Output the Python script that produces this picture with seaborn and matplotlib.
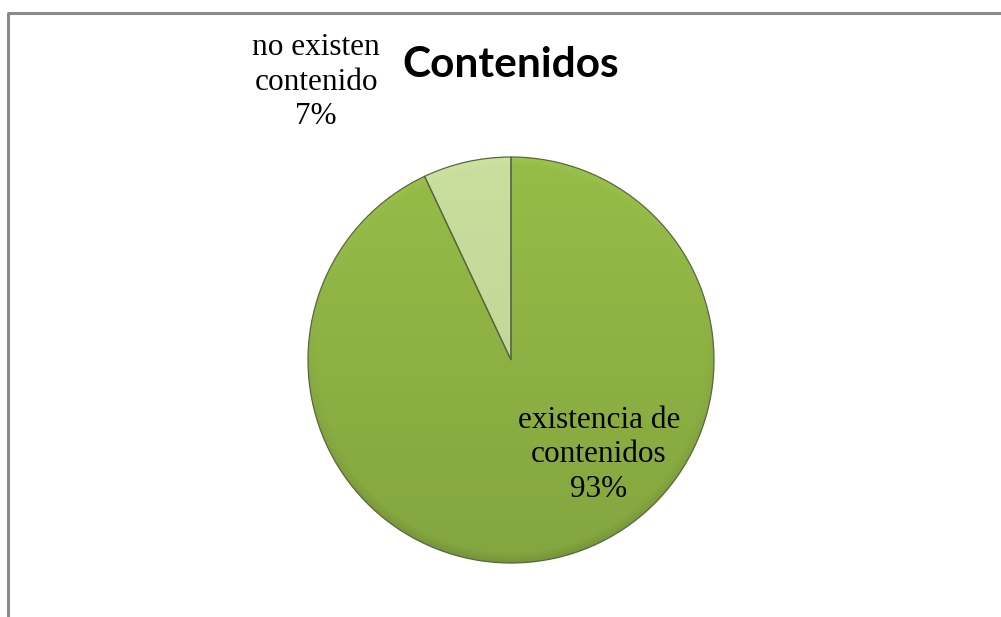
import numpy as np
import matplotlib
matplotlib.use("Agg")
import matplotlib.pyplot as plt
from matplotlib.colors import to_rgb
import seaborn as sns

# Survey result: share of documents with / without contents
categories = ["no existen\ncontenido", "existencia de\ncontenidos"]
values = [7, 93]
title = "Contenidos"

sns.set_theme(style="white")
plt.rcParams["font.family"] = ["Liberation Serif", "DejaVu Serif"]

W, H = 1001, 617
fig = plt.figure(figsize=(W / 100, H / 100), dpi=100)
ax = fig.add_axes([0, 0, 1, 1])
ax.set_xlim(0, W)
ax.set_ylim(0, H)
ax.axis("off")

cx, cy, R = 511, 257, 203
base_colors = ["#c2d798", "#8cb043"]
shade_range = [0.5, 1.0]

wedges, _ = ax.pie(values, startangle=90, counterclock=True, center=(cx, cy),
                   radius=R, colors=base_colors, frame=False,
                   wedgeprops=dict(edgecolor="none", linewidth=0))
ax.set_xlim(0, W)
ax.set_ylim(0, H)
ax.set_aspect("equal")

# shaded fill: lighter at the top, darker toward the bottom, bevelled rim
yy, xx = np.mgrid[cy - R - 2:cy + R + 2:1.0, cx - R - 2:cx + R + 2:1.0]
rr = np.hypot(xx - cx, yy - cy) / R
vert = (yy - (cy - R)) / (2 * R)
rim = np.clip((rr - 0.95) / 0.05, 0, 1)
for w, col, k in zip(wedges, base_colors, shade_range):
    shade = 0.94 + 0.13 * vert
    shade = shade - 0.10 * rim * (1 - vert) + 0.05 * rim * vert
    shade = 1 + k * (shade - 1)
    rgb = np.array(to_rgb(col))
    img = np.clip(rgb[None, None, :] * shade[..., None], 0, 1)
    im = ax.imshow(img, origin="lower", interpolation="bilinear",
                   extent=(cx - R - 2, cx + R + 2, cy - R - 2, cy + R + 2),
                   zorder=2)
    im.set_clip_path(w)

# slice borders
for w in wedges:
    w.set_zorder(3)
    w.set_facecolor("none")
    w.set_edgecolor("#5a6640")
    w.set_linewidth(0.9)
ax.set_xlim(0, W)
ax.set_ylim(0, H)

# labels
ax.text(316, 535, f"{categories[0]}\n{values[0]}%", ha="center", va="center",
        fontsize=22.5, color="black", linespacing=1.27, zorder=5)
ax.text(599, 162, f"{categories[1]}\n{values[1]}%", ha="center", va="center",
        fontsize=22.5, color="black", linespacing=1.27, zorder=5)
ax.text(511, 540, title, ha="center", va="baseline", fontsize=30.5,
        fontweight="bold", family=["Lato", "DejaVu Sans"], color="black",
        zorder=5)

# chart frame (top and left edges)
ax.plot([7, W], [H - 13, H - 13], color="#8a8a8a", lw=2.2, zorder=6,
        solid_capstyle="butt")
ax.plot([8, 8], [0, H - 13], color="#8a8a8a", lw=2.2, zorder=6,
        solid_capstyle="butt")

fig.savefig("out.png", dpi=100, facecolor="white")
